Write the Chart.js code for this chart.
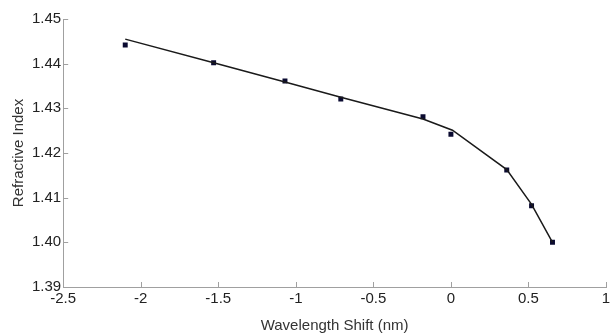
<!DOCTYPE html>
<html>
<head>
<meta charset="utf-8">
<script src="https://cdn.jsdelivr.net/npm/chart.js@4.4.0/dist/chart.umd.min.js"></script>
<style>
  html, body { margin: 0; padding: 0; background: #fff; }
  #wrap { width: 610px; height: 335px; }
</style>
</head>
<body>
<div id="wrap"><canvas id="chart" width="610" height="335"></canvas></div>
<script>
// measured points
const shiftNm = [-2.1, -1.53, -1.07, -0.71, -0.18, 0, 0.36, 0.52, 0.655];
const refIndex = [1.4442, 1.4402, 1.4361, 1.4321, 1.4281, 1.4242, 1.4162, 1.4082, 1.4000];
// fitted curve
const fitShift = [-2.1, -1.53, -1.07, -0.71, -0.18, 0.01, 0.36, 0.52, 0.655];
const fitIndex = [1.4455, 1.4402, 1.4359, 1.4325, 1.4276, 1.4251, 1.4163, 1.4085, 1.4000];

const xTicks = [-2.5, -2, -1.5, -1, -0.5, 0, 0.5, 1];
const yTicks = [1.39, 1.40, 1.41, 1.42, 1.43, 1.44, 1.45];

function toXY(xs, ys) {
    return xs.map(function (x, i) { return { x: x, y: ys[i] }; });
}

// small ticks drawn inside the axes, matlab style
const innerTicks = {
    id: 'innerTicks',
    afterDraw: function (chart) {
        const ctx = chart.ctx, x = chart.scales.x, y = chart.scales.y;
        ctx.save();
        ctx.strokeStyle = '#a0a0a0';
        ctx.lineWidth = 1;
        ctx.beginPath();
        xTicks.forEach(function (v) {
            const px = Math.round(x.getPixelForValue(v)) + 0.5;
            ctx.moveTo(px, y.bottom);
            ctx.lineTo(px, y.bottom - 5);
        });
        yTicks.forEach(function (v) {
            const py = Math.round(y.getPixelForValue(v)) + 0.5;
            ctx.moveTo(x.left, py);
            ctx.lineTo(x.left + 5, py);
        });
        ctx.stroke();
        ctx.restore();
    }
};

new Chart(document.getElementById('chart').getContext('2d'), {
    type: 'scatter',
    data: {
        datasets: [{
            label: 'Fit',
            data: toXY(fitShift, fitIndex),
            showLine: true,
            borderColor: '#1a1a1a',
            borderWidth: 1.5,
            pointRadius: 0,
            tension: 0
        }, {
            label: 'Measured',
            data: toXY(shiftNm, refIndex),
            showLine: false,
            pointStyle: 'rect',
            pointRadius: 3.5,
            backgroundColor: '#0a0a30',
            borderColor: '#0a0a30',
            borderWidth: 0
        }]
    },
    options: {
        responsive: false,
        animation: false,
        layout: { padding: { top: 19, right: 0, bottom: 0, left: 10 } },
        plugins: {
            legend: { display: false },
            tooltip: { enabled: false }
        },
        scales: {
            x: {
                type: 'linear',
                min: -2.5,
                max: 1,
                afterBuildTicks: function (axis) {
                    axis.ticks = xTicks.map(function (v) { return { value: v }; });
                },
                afterFit: function (axis) {
                    axis.paddingRight = 2;
                },
                grid: { display: false, drawTicks: false },
                border: { color: '#a0a0a0', width: 1 },
                ticks: {
                    padding: 3,
                    color: '#222',
                    font: { family: 'Liberation Sans', size: 15 },
                    callback: function (v) { return String(v); }
                },
                title: {
                    display: true,
                    text: 'Wavelength Shift (nm)',
                    color: '#333',
                    font: { family: 'Liberation Sans', size: 15 },
                    padding: { top: 6, bottom: 0 }
                }
            },
            y: {
                type: 'linear',
                min: 1.39,
                max: 1.45,
                afterBuildTicks: function (axis) {
                    axis.ticks = yTicks.map(function (v) { return { value: v }; });
                },
                grid: { display: false, drawTicks: false },
                border: { color: '#a0a0a0', width: 1 },
                ticks: {
                    padding: 2,
                    color: '#222',
                    font: { family: 'Liberation Sans', size: 15 },
                    callback: function (v) { return v.toFixed(2); }
                },
                title: {
                    display: true,
                    text: 'Refractive Index',
                    color: '#333',
                    font: { family: 'Liberation Sans', size: 15 },
                    padding: { top: 0, bottom: 2 }
                }
            }
        }
    },
    plugins: [innerTicks]
});
</script>
</body>
</html>
